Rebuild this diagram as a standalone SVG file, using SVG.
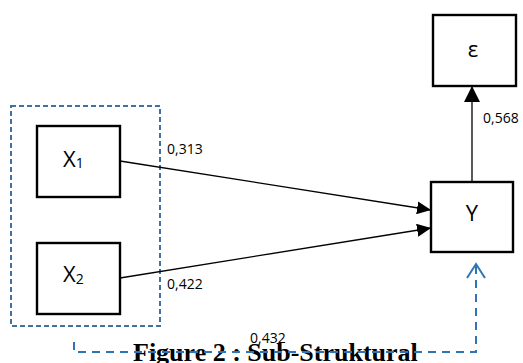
<svg xmlns="http://www.w3.org/2000/svg" width="523" height="363" viewBox="0 0 523 363">
<defs>
<marker id="ah" markerWidth="14" markerHeight="13" refX="14" refY="6.5" orient="auto" markerUnits="userSpaceOnUse" viewBox="0 0 14 13">
<path d="M0,0 L14,6.5 L0,13 Z" fill="#000"/>
</marker>
<marker id="ah2" markerWidth="16" markerHeight="16" refX="16" refY="8" orient="auto" markerUnits="userSpaceOnUse" viewBox="0 0 16 16">
<path d="M0,0 L16,8 L0,16 Z" fill="#000"/>
</marker>
<style>
.box{fill:#fff;stroke:#000;stroke-width:2.4}
.lbl{font-family:"Open Sans","Liberation Sans",sans-serif;font-size:22px;fill:#000}
.sub{font-size:14px}
.num{font-family:"Open Sans","Liberation Sans",sans-serif;font-size:14px;fill:#000}
.ln{stroke:#000;stroke-width:1.3;fill:none}
.grp{fill:none;stroke:#41719C;stroke-width:2;stroke-dasharray:5 3}
.dash{fill:none;stroke:#2E75B6;stroke-width:2;stroke-dasharray:8 6}
</style>
</defs>
<rect width="523" height="363" fill="#fff"/>
<rect class="grp" x="11" y="106" width="149" height="220"/>
<g id="X1"><rect class="box" x="37" y="126" width="83" height="71"/><text class="lbl" x="63" y="167">X<tspan class="sub" dy="1">1</tspan></text></g>
<g id="X2"><rect class="box" x="37" y="243" width="83" height="71"/><text class="lbl" x="63" y="282">X<tspan class="sub" dy="2">2</tspan></text></g>
<g id="Y"><rect class="box" x="431" y="182" width="82" height="70"/><text class="lbl" x="472" y="221" text-anchor="middle" font-size="26">Y</text></g>
<g id="E"><rect class="box" x="433" y="15" width="83" height="71"/><text class="lbl" x="473" y="57" text-anchor="middle" font-size="24">ε</text></g>
<text x="133" y="361" font-family="'Liberation Serif',serif" font-weight="bold" font-size="26" fill="#000">Figure 2 : Sub-Struktural</text>
<g id="connectors">
<line class="ln" x1="120" y1="161" x2="431" y2="210" marker-end="url(#ah)"/>
<line class="ln" x1="120" y1="278" x2="431" y2="228" marker-end="url(#ah)"/>
<line class="ln" x1="472" y1="182" x2="472" y2="86" marker-end="url(#ah2)"/>
<path class="dash" d="M74,342 V352 H476 V265"/>
<path d="M467,278 L476,264 L485,278" fill="none" stroke="#2E75B6" stroke-width="2"/>
</g>
<text class="num" x="167" y="154">0,313</text>
<text class="num" x="167" y="289">0,422</text>
<text class="num" x="483" y="123">0,568</text>
<text class="num" x="250" y="343">0,432</text>
</svg>
